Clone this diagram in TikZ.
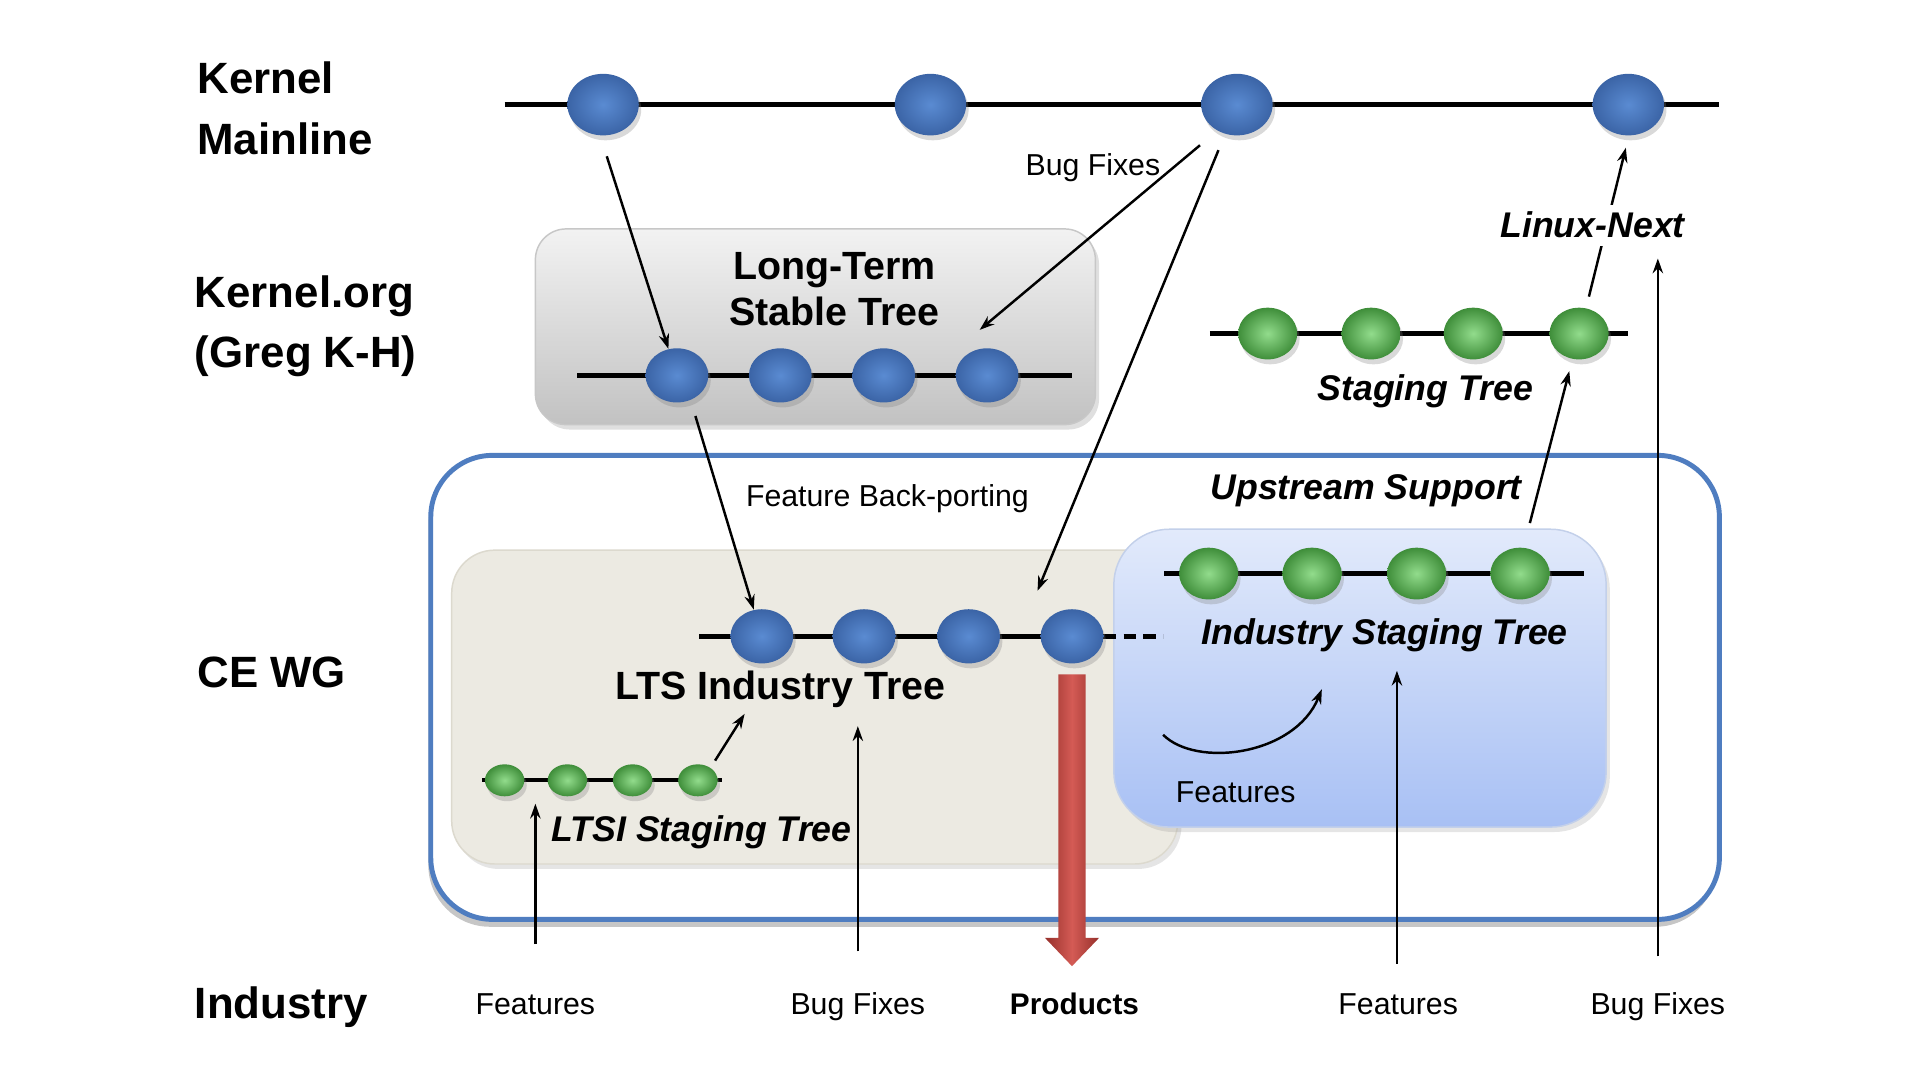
\documentclass[tikz,border=0pt]{standalone}
\usepackage{fontspec}
\setmainfont{Liberation Sans}
\usetikzlibrary{shapes.geometric,shadows,arrows.meta,calc}
\definecolor{bluein}{HTML}{5A8BD2}
\definecolor{blueout}{HTML}{3B64A6}
\definecolor{greenin}{HTML}{92DC8C}
\definecolor{greenout}{HTML}{3F8E3A}
\definecolor{cewgblue}{HTML}{4F7DC0}
\definecolor{beige}{HTML}{ECEAE2}
\definecolor{beigeline}{HTML}{DCD9CE}
\definecolor{stgtop}{HTML}{E2EAFB}
\definecolor{stgbot}{HTML}{A8C0F4}
\definecolor{stgline}{HTML}{C3D0EA}
\definecolor{redmid}{HTML}{D45B55}
\definecolor{rededge}{HTML}{96302B}
\newcommand\mybig{\fontsize{17.8pt}{24.5pt}\selectfont\bfseries}
\newcommand\myttl{\fontsize{16pt}{19pt}\selectfont\bfseries}
\newcommand\myital{\fontsize{14.5pt}{17pt}\selectfont\bfseries\itshape}
\newcommand\myreg{\fontsize{12.3pt}{14pt}\selectfont}
\newcommand\myprod{\fontsize{12.1pt}{14pt}\selectfont\bfseries}
\begin{document}
\begin{tikzpicture}[x=0.5pt,y=-0.5pt,
  arr/.style={draw=black, line width=1pt, -{Stealth[length=6pt,width=4.2pt]}},
  tline/.style={line width=2pt, black},
  ball/.style={ellipse, inner sep=0pt, draw=none, shading=radial,
    drop shadow={shadow xshift=1pt, shadow yshift=-2pt, opacity=0.3}},
  bnode/.style={ball, inner color=bluein, outer color=blueout,
    minimum width=29pt, minimum height=25pt},
  bnodes/.style={ball, inner color=bluein, outer color=blueout,
    minimum width=25.5pt, minimum height=22pt},
  gnode/.style={ball, inner color=greenin, outer color=greenout,
    minimum width=24pt, minimum height=21pt},
  gnodes/.style={ball, inner color=greenin, outer color=greenout,
    minimum width=16pt, minimum height=13pt},
  side/.style={anchor=west, align=left, inner sep=0pt, font=\mybig},
  reg/.style={inner sep=0pt, font=\myreg},
  bot/.style={inner sep=0pt, anchor=base, font=\myreg},
  itl/.style={inner sep=0pt, font=\myital},
  ttl/.style={inner sep=0pt, align=center, font=\myttl}
]
\useasboundingbox (0,0) rectangle (1560,877.5);

% left labels
\node[side] (lbkm) at (160,88) {Kernel\\Mainline};
\node[side] (lbko) at (158,265) {Kernel.org\\(Greg K-H)};
\node[side] (lbce) at (160,546) {CE WG};
\node[side] (lbin) at (158,818) {Industry};

% boxes
\node[rounded corners=12.5pt, minimum width=227.5pt, minimum height=79.5pt,
  top color=black!5, bottom color=black!24, draw=black!22, line width=0.6pt,
  drop shadow={shadow xshift=1.5pt, shadow yshift=-2pt, opacity=0.25}] (ltsbox) at (662.5,265.5) {};
\node[rounded corners=25pt, minimum width=523.5pt, minimum height=188.5pt,
  fill=white, draw=cewgblue, line width=2pt,
  drop shadow={shadow xshift=-1pt, shadow yshift=-3pt, opacity=0.45}] (cewg) at (873.5,558.5) {};
\node[rounded corners=17.5pt, minimum width=295pt, minimum height=127.5pt,
  fill=beige, draw=beigeline, line width=0.6pt,
  drop shadow={shadow xshift=1.5pt, shadow yshift=-2pt, opacity=0.2}] (ltibox) at (662,574.5) {};
\node[rounded corners=22.5pt, minimum width=200pt, minimum height=121pt,
  top color=stgtop, bottom color=stgbot, draw=stgline, line width=0.6pt,
  drop shadow={shadow xshift=1.5pt, shadow yshift=-2pt, opacity=0.2}] (istbox) at (1105,551) {};

% mainline
\coordinate (mla) at (410,85); \coordinate (mlb) at (1397,85);
\draw[tline] (mla) -- (mlb);
\foreach \x/\n in {490/m1,756/m2,1005/m3,1323/m4} \node[bnode] (\n) at (\x,85) {};

% long-term stable tree
\coordinate (lta) at (469,305); \coordinate (ltb) at (871,305);
\draw[tline] (lta) -- (ltb);
\foreach \x/\n in {550/l1,634/l2,718/l3,802/l4} \node[bnodes] (\n) at (\x,305) {};
\node[ttl] (lttext) at (678,235) {Long-Term\\Stable Tree};

% staging tree (right)
\coordinate (sta) at (983,271); \coordinate (stb) at (1323,271);
\draw[tline] (sta) -- (stb);
\foreach \x/\n in {1030/s1,1114/s2,1197/s3,1283/s4} \node[gnode] (\n) at (\x,271) {};
\node[itl] (sttext) at (1158,318) {Staging Tree};

% LTS industry tree
\coordinate (lia) at (568,517); \coordinate (lib) at (897,517); \coordinate (lic) at (945,517);
\draw[tline] (lia) -- (lib);
\draw[tline, dash pattern=on 5pt off 3pt] (lib) -- (lic);
\foreach \x/\n in {619/t1,702/t2,787/t3,871/t4} \node[bnodes] (\n) at (\x,517) {};
\node[ttl] (litext) at (634,560) {LTS Industry Tree};

% LTSI staging tree
\coordinate (lsa) at (392,634); \coordinate (lsb) at (587,634);
\draw[line width=1.6pt] (lsa) -- (lsb);
\foreach \x/\n in {410/g1,461/g2,514/g3,567/g4} \node[gnodes] (\n) at (\x,634) {};
\node[itl] (lstext) at (570,676) {LTSI Staging Tree};

% industry staging tree
\coordinate (isa) at (946,466); \coordinate (isb) at (1287,466);
\draw[tline] (isa) -- (isb);
\foreach \x/\n in {982/i1,1066/i2,1151/i3,1235/i4} \node[gnode] (\n) at (\x,466) {};
\node[itl] (istext) at (1125,516) {Industry Staging Tree};
\node[itl] (uptext) at (1110,399) {Upstream Support};

% red products arrow
\coordinate (rtop) at (871,548); \coordinate (rtip) at (871,785);
\shade[left color=rededge, right color=rededge, middle color=redmid]
  (860,548) -- (882,548) -- (882,762) -- (893,762) -- (rtip) -- (849,762) -- (860,762) -- cycle;

% labels
\node[reg] (bftop) at (888,136) {Bug Fixes};
\node[reg] (fbp) at (721,405) {Feature Back-porting};
\node[reg] (featin) at (1004,644) {Features};
\node[bot] (bf1) at (435,824) {Features};
\node[bot] (bf2) at (697,824) {Bug Fixes};
\node[bot, font=\myprod] (prod) at (873,824) {Products};
\node[bot] (bf4) at (1136,824) {Features};
\node[bot] (bf5) at (1347,824) {Bug Fixes};

% arrows
\coordinate (a1) at (493,127);
\draw[arr] (a1) -- (l1);
\coordinate (a2s) at (975,118); \coordinate (a2e) at (796,268);
\draw[arr] (a2s) -- (a2e);
\coordinate (a3s) at (990,122); \coordinate (a3e) at (843,480);
\draw[arr] (a3s) -- (a3e);
\coordinate (a4) at (565,338);
\draw[arr] (a4) -- (t1);
\coordinate (a5s) at (581,618); \coordinate (a5e) at (605,580);
\draw[arr] (a5s) -- (a5e);
\coordinate (a6s) at (435,767); \coordinate (a6e) at (435,653);
\draw[arr] (a6s) -- (a6e);
\coordinate (a7s) at (697,773); \coordinate (a7e) at (697,590);
\draw[arr] (a7s) -- (a7e);
\coordinate (a8s) at (945,597); \coordinate (a8e) at (1074,560);
\draw[arr] (a8s) .. controls (972,624) and (1052,614) .. (a8e);
\coordinate (a9s) at (1135,783); \coordinate (a9e) at (1135,545);
\draw[arr] (a9s) -- (a9e);
\coordinate (a10) at (1243,425);
\draw[arr, shorten >=5pt] (a10) -- (s4);
\coordinate (a11s) at (1291,241); \coordinate (a11e) at (1321,120);
\draw[arr] (a11s) -- (a11e);
\node[itl, fill=white, inner sep=3pt] (lntext) at (1294,183) {Linux-Next};
\coordinate (a12s) at (1347,777); \coordinate (a12e) at (1347,210);
\draw[arr] (a12s) -- (a12e);
\end{tikzpicture}
\end{document}
